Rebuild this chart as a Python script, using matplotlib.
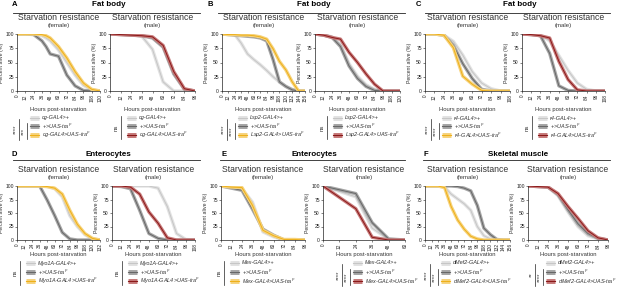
import matplotlib.pyplot as plt

plt.rcParams['font.family'] = ['Liberation Sans', 'DejaVu Sans']
plt.rcParams['mathtext.fontset'] = 'custom'
plt.rcParams['mathtext.it'] = 'Liberation Sans:italic'
plt.rcParams['mathtext.rm'] = 'Liberation Sans'

W, H = 617, 290

# ---- data: percent alive vs hours post-starvation ----
# A  fat body, cg-GAL4
A_f_t = [0, 12, 24, 36, 42, 48, 60, 72, 84, 96, 108, 120]
A_f_driver = [100, 100, 100, 97, 93, 88, 72, 50, 28, 10, 2, 0]
A_f_uas = [100, 100, 99, 88, 78, 65, 61, 28, 9, 1, 0, 0]
A_f_exp = [100, 100, 100, 99, 97, 93, 78, 58, 34, 14, 3, 0]
A_m_t = [0, 12, 24, 36, 48, 60, 72, 84, 96]
A_m_driver = [100, 100, 99, 96, 73, 16, 0, 0, 0]
A_m_uas = [100, 99, 98, 97, 93, 77, 30, 3, 0]
A_m_exp = [100, 99, 98, 97, 95, 80, 34, 4, 0]

# B  fat body, Lsp2-GAL4
B_f_t = [0, 12, 24, 36, 48, 60, 72, 84, 96, 108, 120, 132, 144, 156]
B_f_driver = [100, 100, 99, 84, 65, 55, 46, 36, 25, 16, 8, 3, 0, 0]
B_f_uas = [100, 99, 98, 97, 96, 95, 93, 88, 55, 16, 8, 2, 0, 0]
B_f_exp = [100, 99, 99, 98, 98, 97, 95, 91, 74, 52, 37, 16, 0, 0]
B_m_t = [0, 12, 24, 36, 48, 60, 72, 84, 96, 108, 120]
B_m_driver = [100, 98, 95, 82, 48, 26, 11, 3, 0, 0, 0]
B_m_uas = [100, 98, 94, 78, 44, 22, 8, 1, 0, 0, 0]
B_m_exp = [100, 98, 94, 91, 68, 50, 30, 12, 0, 0, 0]

# C  fat body, r4-GAL4
C_f_t = [0, 12, 24, 36, 48, 60, 72, 84, 96, 108]
C_f_driver = [100, 100, 98, 87, 63, 34, 14, 4, 0, 0]
C_f_uas = [100, 100, 98, 80, 48, 22, 3, 0, 0, 0]
C_f_exp = [100, 100, 98, 76, 26, 12, 1, 0, 0, 0]
C_m_t = [0, 12, 24, 36, 48, 60, 72, 84, 96, 108]
C_m_driver = [100, 99, 98, 88, 62, 36, 14, 3, 0, 0]
C_m_uas = [100, 99, 97, 66, 9, 1, 0, 0, 0, 0]
C_m_exp = [100, 99, 97, 93, 52, 20, 2, 0, 0, 0]

# D  enterocytes, Myo1A-GAL4
D_f_t = [0, 12, 24, 36, 48, 60, 72, 84, 96, 108, 120, 132]
D_f_driver = [100, 100, 100, 100, 99, 95, 80, 45, 25, 10, 2, 0]
D_f_uas = [100, 100, 100, 100, 74, 45, 14, 2, 0, 0, 0, 0]
D_f_exp = [100, 100, 100, 100, 99, 96, 85, 55, 29, 12, 3, 0]
D_m_t = [0, 12, 24, 36, 48, 60, 72, 84, 96, 108]
D_m_driver = [100, 100, 100, 100, 100, 96, 62, 12, 1, 0]
D_m_uas = [100, 99, 95, 55, 12, 3, 0, 0, 0, 0]
D_m_exp = [100, 100, 98, 85, 52, 31, 4, 0, 0, 0]

# E  enterocytes, Mex-GAL4
E_f_t = [0, 12, 24, 36, 48, 60, 72, 84, 96]
E_f_driver = [100, 98, 95, 70, 15, 6, 0, 0, 0]
E_f_uas = [100, 96, 92, 57, 20, 9, 0, 0, 0]
E_f_exp = [100, 98, 97, 64, 18, 8, 1, 1, 0]
E_m_t = [0, 12, 24, 36, 48, 60]
E_m_driver = [100, 90, 80, 22, 1, 0]
E_m_uas = [100, 93, 86, 32, 2, 0]
E_m_exp = [100, 79, 58, 5, 0, 0]

# F  skeletal muscle, dMef2-GAL4
F_f_t = [0, 12, 24, 36, 48, 60, 72, 84, 96, 108, 120, 132, 144, 156]
F_f_driver = [100, 100, 100, 98, 85, 76, 67, 55, 25, 8, 2, 0, 0, 0]
F_f_uas = [100, 100, 100, 100, 100, 99, 96, 91, 64, 22, 10, 1, 0, 0]
F_f_exp = [100, 100, 100, 97, 62, 37, 20, 7, 2, 0, 0, 0, 0, 0]
F_m_t = [0, 12, 24, 36, 48, 60, 72, 84, 96]
F_m_driver = [100, 99, 98, 82, 52, 25, 8, 2, 0]
F_m_uas = [100, 99, 98, 84, 56, 30, 12, 3, 0]
F_m_exp = [100, 99, 98, 86, 62, 40, 17, 4, 0]

drivers = ['cg-GAL4', 'Lsp2-GAL4', 'r4-GAL4', 'Myo1A-GAL4', 'Mex-GAL4', 'dMef2-GAL4']
tissues = ['Fat body', 'Fat body', 'Fat body', 'Enterocytes', 'Enterocytes', 'Skeletal muscle']
letters = ['A', 'B', 'C', 'D', 'E', 'F']
sig_female = [['****', '***'], ['****', '****'], ['****', '****'], ['ns'], ['ns'], ['****', '****']]
sig_male = [['ns'], ['ns'], ['ns'], ['ns'], ['****', '****'], ['**', '****']]

LIGHT = ('#c6c6c6', '#e2e2e2')
DARK = ('#676767', '#a6a6a6')
YELLOW = ('#eeb01a', '#f6d37e')
RED = ('#8a1919', '#c77b7b')
TXT = '#333333'

fig = plt.figure(figsize=(6.17, 2.90), dpi=100)
ov = fig.add_axes([0, 0, 1, 1])
ov.set_xlim(0, W)
ov.set_ylim(H, 0)
ov.axis('off')


def panel(box, t, curves, xmax, exp_col, title, label_y, head_gap):
    l, top, r, b = box
    ax = fig.add_axes([l / W, 1 - b / H, (r - l) / W, (b - top) / H])
    ax.patch.set_alpha(0)
    for y, (lc, bc) in zip(curves, [LIGHT, DARK, exp_col]):
        ax.plot(t, y, color=bc, lw=2.4, solid_capstyle='butt')
        ax.plot(t, y, color=lc, lw=0.7)
    ax.set_xlim(0, xmax)
    ax.set_ylim(0, 100)
    ax.set_xticks(range(0, xmax + 1, 12))
    ax.set_yticks([0, 25, 50, 75, 100])
    ax.tick_params(labelsize=3.6, length=1.5, width=0.4, pad=0.8, colors='#222222')
    ax.tick_params(axis='x', labelrotation=90, labelsize=3.4)
    for s in ['top', 'right']:
        ax.spines[s].set_visible(False)
    for s in ['left', 'bottom']:
        ax.spines[s].set_linewidth(0.5)
        ax.spines[s].set_color('#222222')
    ax.set_ylabel('Percent alive (%)', fontsize=3.8, labelpad=0.8, color=TXT)
    ax.set_xlabel('Hours post-starvation', fontsize=4.2, color=TXT)
    ax.xaxis.set_label_coords(0.5, -(label_y - b) / (b - top))
    cx = (l + r) / 2
    ov.text(cx, top - head_gap, 'Starvation resistance', fontsize=6.2, color=TXT,
            ha='center', va='center')
    ov.text(cx, top - 8.5, title, fontsize=4.3, color=TXT, ha='center', va='center')
    return ax


def legend(x, rows, driver, exp_col, sig):
    labels = [driver + '>+', '+>UAS-tra$^{\\mathit{F}}$',
              driver + '>UAS-tra$^{\\mathit{F}}$']
    for yy, lab, (lc, bc) in zip(rows, labels, [LIGHT, DARK, exp_col]):
        ov.plot([x, x + 9], [yy, yy], color=bc, lw=3.6, solid_capstyle='butt')
        ov.plot([x, x + 9], [yy, yy], color=lc, lw=0.8)
        ov.text(x + 12, yy, lab, style='italic', fontsize=4.0, color=TXT,
                ha='left', va='center')
    if len(sig) == 1:
        y0, y1 = rows[0] - 2, rows[2] + 4
        ov.plot([x - 6, x - 6], [y0, y1], color='#222222', lw=0.5)
        ov.text(x - 11, (y0 + y1) / 2, sig[0], rotation=90, fontsize=4.3,
                color=TXT, ha='center', va='center')
    else:
        y0, y1 = rows[0] + 1, rows[2] + 5
        ov.plot([x - 11, x - 11], [y0, y1], color='#222222', lw=0.5)
        ov.text(x - 15, (y0 + y1) / 2, sig[0], rotation=90, fontsize=4.3,
                color=TXT, ha='center', va='center')
        y0, y1 = rows[1] - 3, rows[2] + 4
        ov.plot([x - 3, x - 3], [y0, y1], color='#222222', lw=0.5)
        ov.text(x - 7, (y0 + y1) / 2, sig[1], rotation=90, fontsize=4.3,
                color=TXT, ha='center', va='center')


# layout (pixels): female box, male box, legend x, header line, letter x
boxes_f = [(17, 34, 100, 91), (222, 34, 305, 91), (425, 34, 510, 91),
           (17, 186, 100, 240), (221, 186, 305, 240), (425, 186, 510, 240)]
boxes_m = [(110, 34, 195, 91), (315, 34, 400, 91), (522, 34, 605, 91),
           (112, 186, 195, 240), (323, 186, 405, 240), (528, 186, 608, 240)]
leg_f = [30, 238, 442, 26, 230, 441]
leg_m = [127, 333, 538, 128, 353, 546]
lines = [(13, 200), (218, 405), (425, 610), (13, 200), (220, 405), (423, 610)]
letter_x = [12, 208, 416, 12, 221, 424]

female = [(A_f_t, A_f_driver, A_f_uas, A_f_exp), (B_f_t, B_f_driver, B_f_uas, B_f_exp),
          (C_f_t, C_f_driver, C_f_uas, C_f_exp), (D_f_t, D_f_driver, D_f_uas, D_f_exp),
          (E_f_t, E_f_driver, E_f_uas, E_f_exp), (F_f_t, F_f_driver, F_f_uas, F_f_exp)]
male = [(A_m_t, A_m_driver, A_m_uas, A_m_exp), (B_m_t, B_m_driver, B_m_uas, B_m_exp),
        (C_m_t, C_m_driver, C_m_uas, C_m_exp), (D_m_t, D_m_driver, D_m_uas, D_m_exp),
        (E_m_t, E_m_driver, E_m_uas, E_m_exp), (F_m_t, F_m_driver, F_m_uas, F_m_exp)]

for i in range(6):
    top_row = i < 3
    head_y = 5 if top_row else 154
    line_y = 13 if top_row else 160
    label_y = 107 if top_row else 252
    head_gap = 16 if top_row else 17
    rows = [118, 126, 135] if top_row else [263, 272, 281]

    ov.text(letter_x[i], head_y, letters[i], fontsize=5.5, fontweight='bold',
            ha='left', va='center')
    x0, x1 = lines[i]
    ov.text((x0 + x1) / 2 + 2, head_y, tissues[i], fontsize=5.8,
            fontweight='bold', ha='center', va='center')
    ov.plot([x0, x1], [line_y, line_y], color='#222222', lw=0.6)

    t, d, u, e = female[i]
    panel(boxes_f[i], t, [d, u, e], t[-1], YELLOW, '(female)', label_y, head_gap)
    legend(leg_f[i], rows, drivers[i], YELLOW, sig_female[i])

    t, d, u, e = male[i]
    panel(boxes_m[i], t, [d, u, e], t[-1], RED, '(male)', label_y, head_gap)
    legend(leg_m[i], rows, drivers[i], RED, sig_male[i])

fig.savefig('out.png', dpi=100)
